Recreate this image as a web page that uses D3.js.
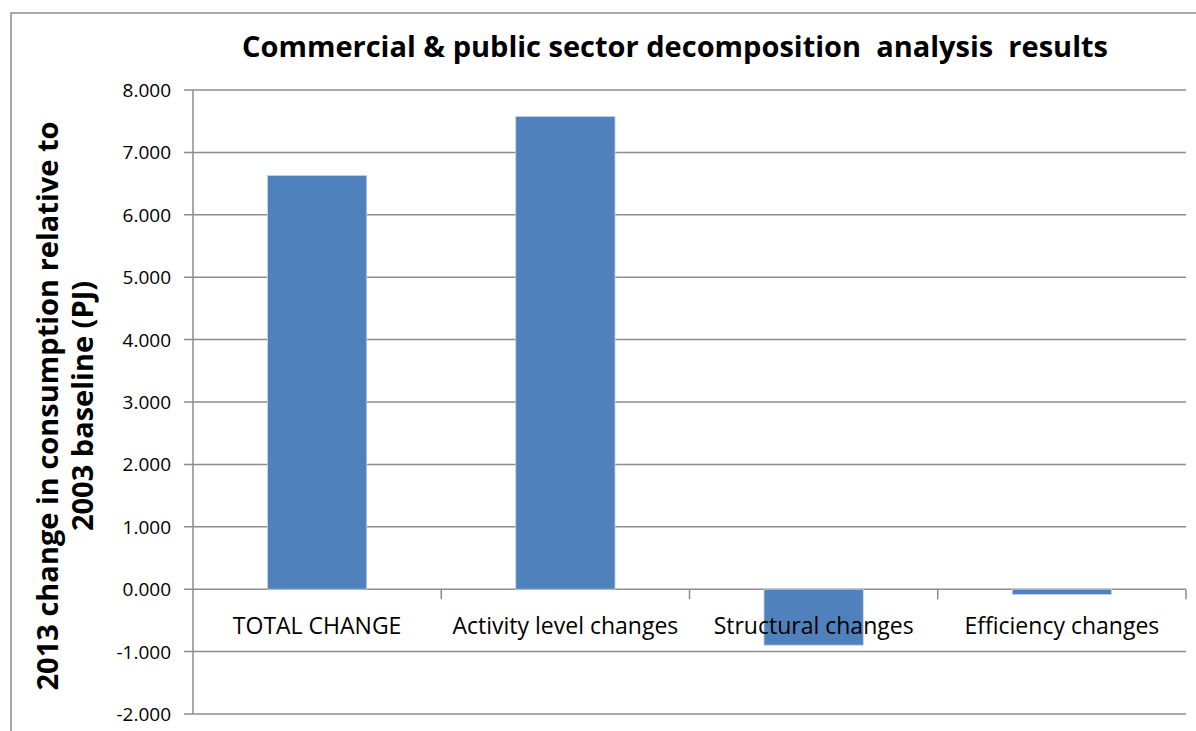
<!DOCTYPE html>
<html>
<head>
<meta charset="utf-8">
<script src="https://cdn.jsdelivr.net/npm/d3@7/dist/d3.min.js"></script>
<style>
  body { margin: 0; background: #fff; }
  text { font-family: "Open Sans", "Liberation Sans", sans-serif; }
</style>
</head>
<body>
<div id="chart"></div>
<script>
// Data
var categories = ["TOTAL CHANGE", "Activity level changes", "Structural changes", "Efficiency changes"];
var values = [6.63, 7.575, -0.897, -0.085];
var yTicks = [8, 7, 6, 5, 4, 3, 2, 1, 0, -1, -2];

var svgWidth = 1196;
var svgHeight = 731;

var svg = d3.select("#chart").append("svg")
            .attr("width", svgWidth)
            .attr("height", svgHeight);

// Outer chart border
svg.append("rect")
   .attr("x", 11).attr("y", 13)
   .attr("width", 1200).attr("height", 740)
   .attr("fill", "none")
   .attr("stroke", "#8c8c8c")
   .attr("stroke-width", 1.5);

// Scales
var x = d3.scaleBand()
          .domain(categories)
          .range([193, 1186])
          .paddingInner(0.6)
          .paddingOuter(0.3);

var y = d3.scaleLinear()
          .domain([-2, 8])
          .range([714, 90]);

// Gridlines
svg.append("g")
   .selectAll("line")
   .data(yTicks)
   .enter()
   .append("line")
   .attr("x1", 184)
   .attr("x2", 1186)
   .attr("y1", function(d) { return y(d); })
   .attr("y2", function(d) { return y(d); })
   .attr("stroke", "#8c8c8c")
   .attr("stroke-width", 1.5);

// Y axis line
svg.append("line")
   .attr("x1", 193).attr("x2", 193)
   .attr("y1", y(8)).attr("y2", y(-2))
   .attr("stroke", "#8c8c8c")
   .attr("stroke-width", 1.5);

// Y tick labels (plain hyphen for negatives, like the original)
svg.append("g")
   .selectAll("text")
   .data(yTicks)
   .enter()
   .append("text")
   .text(function(d) { return d3.format(".3f")(d).replace("\u2212", "-"); })
   .attr("x", 171)
   .attr("y", function(d) { return y(d) + 7; })
   .attr("text-anchor", "end")
   .attr("font-size", "19px")
   .attr("fill", "#000");

// Bars
svg.append("g")
   .selectAll("rect")
   .data(values)
   .enter()
   .append("rect")
   .attr("x", function(d, i) { return x(categories[i]); })
   .attr("y", function(d) { return y(Math.max(0, d)); })
   .attr("width", x.bandwidth())
   .attr("height", function(d) { return Math.abs(y(d) - y(0)); })
   .attr("fill", "#4f81bd")
   .attr("stroke", "#c4d5eb")
   .attr("stroke-width", 0.8);

// Category ticks on the zero line
var boundaries = categories.map(function(c) { return x(c) - x.step() * x.paddingInner() / 2; }).slice(1);
boundaries.push(1186);
svg.append("g")
   .selectAll("line")
   .data(boundaries)
   .enter()
   .append("line")
   .attr("x1", function(d) { return d; })
   .attr("x2", function(d) { return d; })
   .attr("y1", y(0))
   .attr("y2", y(0) + 10)
   .attr("stroke", "#8c8c8c")
   .attr("stroke-width", 1.5);

// Category labels
svg.append("g")
   .selectAll("text")
   .data(categories)
   .enter()
   .append("text")
   .text(function(d) { return d; })
   .attr("x", function(d) { return x(d) + x.bandwidth() / 2; })
   .attr("y", 634)
   .attr("text-anchor", "middle")
   .attr("font-size", "23px")
   .attr("fill", "#000");

// Title
svg.append("text")
   .text("Commercial & public sector decomposition  analysis  results")
   .attr("x", 675)
   .attr("y", 57)
   .attr("text-anchor", "middle")
   .attr("font-size", "29px")
   .attr("font-weight", "bold")
   .style("white-space", "pre")
   .attr("fill", "#000");

// Y axis title
var yTitle = svg.append("text")
   .attr("transform", "translate(58,406) rotate(-90)")
   .attr("text-anchor", "middle")
   .attr("font-size", "29px")
   .attr("font-weight", "bold")
   .attr("fill", "#000");
yTitle.append("tspan").attr("x", 0).attr("dy", 0).text("2013 change in consumption relative to");
yTitle.append("tspan").attr("x", 0).attr("dy", 35).text("2003 baseline (PJ)");
</script>
</body>
</html>
